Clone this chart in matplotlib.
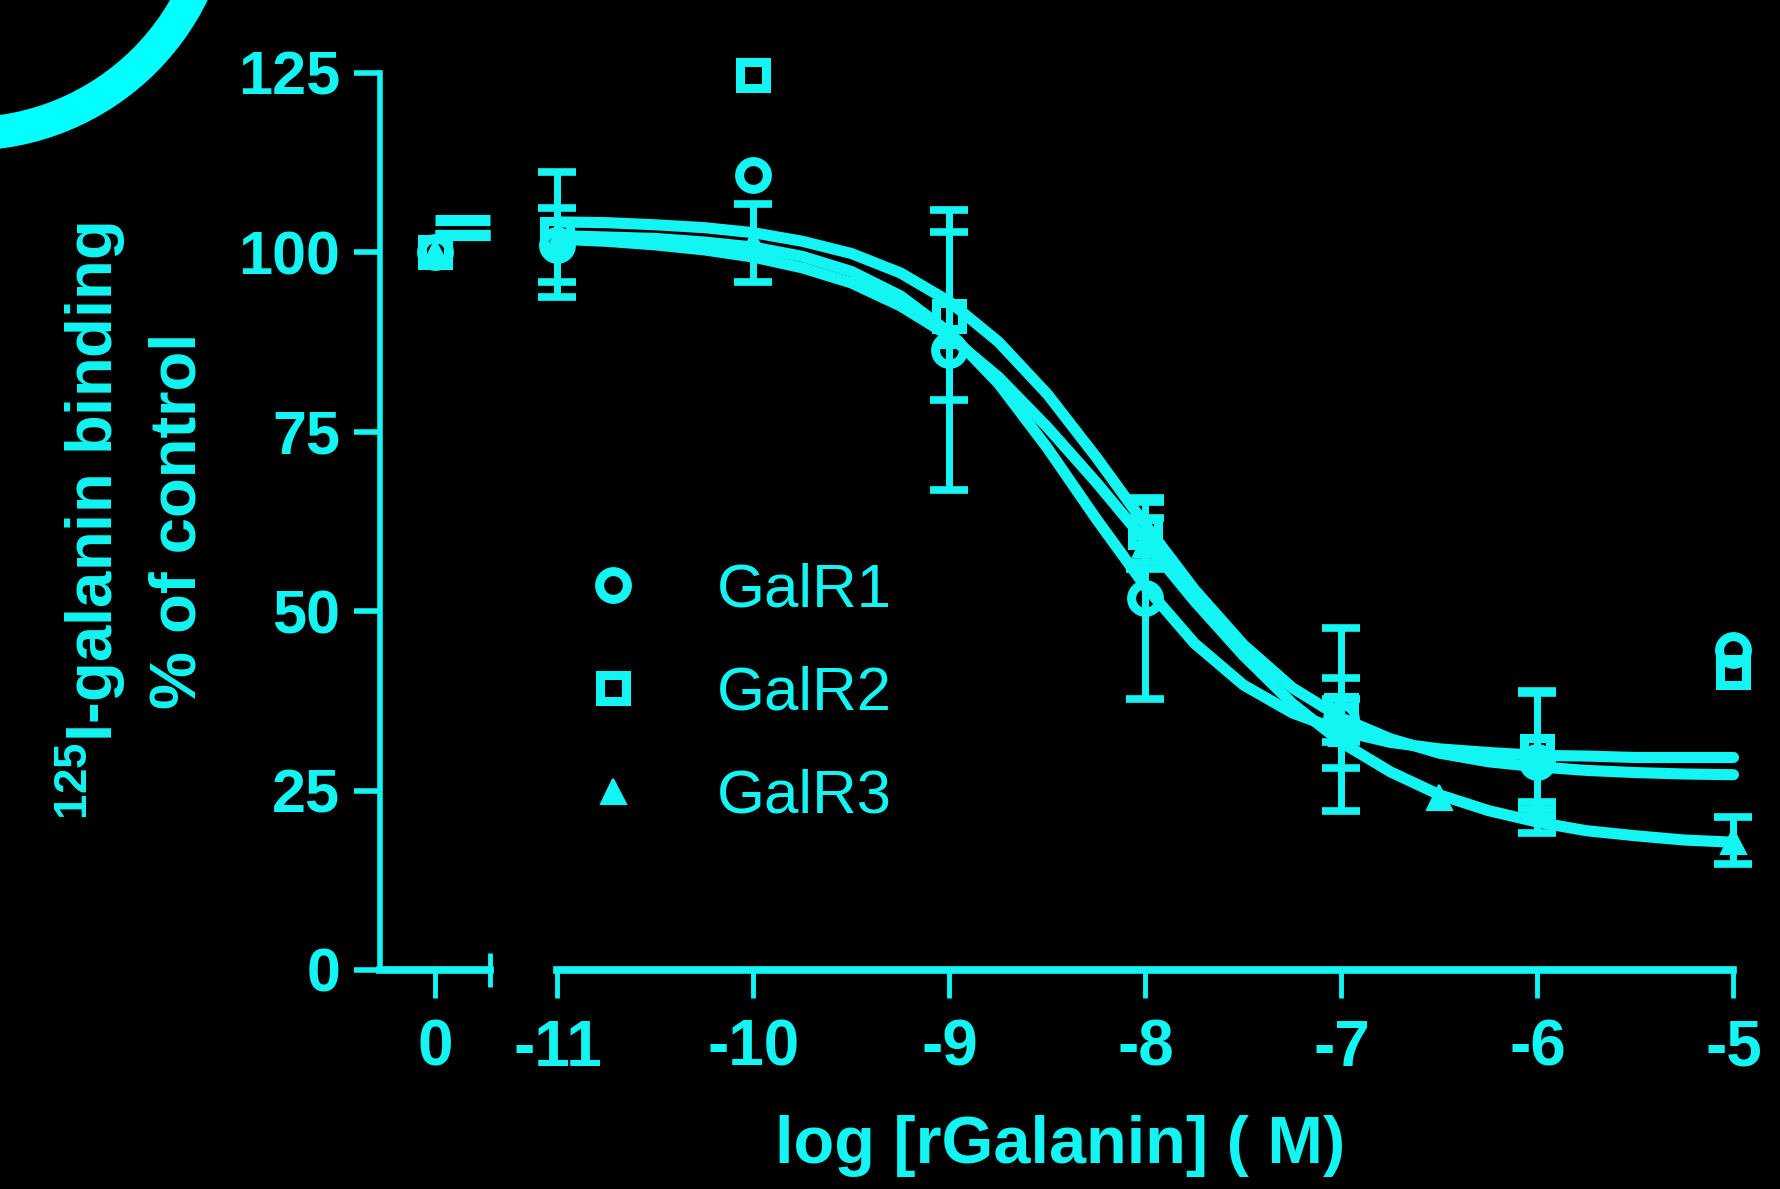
import matplotlib
matplotlib.use("Agg")
import matplotlib.pyplot as plt
from matplotlib.patches import Ellipse
from matplotlib.lines import Line2D

CYAN = "#12F5F2"
plt.rcParams["font.family"] = ["Liberation Sans", "DejaVu Sans"]
plt.rcParams["font.weight"] = "bold"
plt.rcParams["mathtext.fontset"] = "custom"
plt.rcParams["mathtext.rm"] = "Liberation Sans:bold"
plt.rcParams["mathtext.bf"] = "Liberation Sans:bold"
plt.rcParams["axes.unicode_minus"] = False

# ---- data ----
labels = ["GalR1", "GalR2", "GalR3"]

# control point, plotted at "0" on the broken axis
ctrl_y = [100.0, 100.0, 100.0]
ctrl_fit = [102.4, 104.5, 102.4]   # fitted top plateau shown over the control segment

r1_x = [-11, -10, -9, -8, -7, -6, -5]
r1_y = [101.0, 110.8, 86.3, 51.8, 34.9, 29.0, 44.6]
r1_err = [5.1, 0, 19.5, 14.0, 12.8, 9.9, 0]

r2_x = [-11, -10, -9, -8, -7, -6, -5]
r2_y = [102.5, 124.6, 91.1, 61.0, 36.2, 30.5, 41.5]
r2_err = [8.7, 0, 11.7, 4.2, 4.5, 8.1, 0]

r3_x = [-11, -10, -9, -8, -7, -6.5, -6, -5]
r3_y = [101.5, 101.3, 88.5, 59.4, 33.0, 24.1, 22.4, 18.0]
r3_err = [0, 5.4, 0, 3.5, 4.8, 0, 1.0, 3.3]

# fitted curves
fit_x = [-11, -10.75, -10.5, -10.25, -10, -9.75, -9.5, -9.25, -9, -8.75, -8.5, -8.25,
         -8, -7.75, -7.5, -7.25, -7, -6.75, -6.5, -6.25, -6, -5.75, -5.5, -5.25, -5]
fit1 = [102.3, 102.1, 101.9, 101.4, 100.7, 99.4, 97.3, 93.9, 88.8, 81.7, 72.7, 62.8,
        53.4, 45.5, 39.7, 35.8, 33.3, 31.7, 30.8, 30.3, 29.9, 29.8, 29.6, 29.6, 29.6]
fit2 = [104.2, 104.1, 103.8, 103.4, 102.7, 101.5, 99.8, 97.1, 93.1, 87.5, 80.2, 71.4,
        62.0, 53.0, 45.3, 39.3, 35.1, 32.2, 30.2, 29.0, 28.3, 27.8, 27.5, 27.3, 27.2]
fit3 = [101.8, 101.5, 101.0, 100.3, 99.3, 97.8, 95.7, 92.5, 88.3, 82.6, 75.6, 67.9,
        59.7, 51.4, 43.8, 37.1, 31.7, 27.6, 24.4, 22.2, 20.6, 19.4, 18.7, 18.1, 17.8]

x_ticks = [-11, -10, -9, -8, -7, -6, -5]
x_ticklabels = ["-11", "-10", "-9", "-8", "-7", "-6", "-5"]
y_ticks = [0, 25, 50, 75, 100, 125]

# ---- styles ----
mstyle = [
    dict(marker="o", ms=20, mew=6.5, mfc="none"),
    dict(marker="s", ms=19, mew=6.5, mfc="none"),
    dict(marker="^", ms=18, mew=1.5, mfc=CYAN),
]

W, H = 1780, 1189
fig = plt.figure(figsize=(W / 100, H / 100), dpi=100, facecolor="black")


def px(x0, y0, x1, y1):
    return [x0 / W, 1 - y1 / H, (x1 - x0) / W, (y1 - y0) / H]


ax0 = fig.add_axes(px(380, 72.6, 490.4, 970))
ax1 = fig.add_axes(px(557.4, 72.6, 1733.5, 970), sharey=ax0)
for ax in (ax0, ax1):
    ax.set_facecolor("black")
    ax.spines["top"].set_visible(False)
    ax.spines["right"].set_visible(False)
    ax.spines["bottom"].set_color(CYAN)
    ax.spines["bottom"].set_linewidth(5.5)
ax1.spines["left"].set_visible(False)
ax0.spines["left"].set_color(CYAN)
ax0.spines["left"].set_linewidth(4)

ax0.set_xlim(-0.2796, 0.2837)
ax1.set_xlim(-11, -5)
ax0.set_ylim(0, 125)

ax0.set_yticks(y_ticks)
ax0.tick_params(axis="y", length=18.7, width=4, pad=10, labelsize=44,
                color=CYAN, labelcolor=CYAN)
ax1.tick_params(axis="y", left=False, labelleft=False)

ax0.set_xticks([0])
ax0.set_xticklabels(["0"])
ax0.set_xticks([ax0.get_xlim()[1]], minor=True)
ax1.set_xticks(x_ticks)
ax1.set_xticklabels(x_ticklabels)
ax1.set_xticks([-11], minor=True)
for ax in (ax0, ax1):
    ax.tick_params(axis="x", which="major", direction="out", length=20, width=3.5,
                   pad=15, labelsize=46, color=CYAN, labelcolor=CYAN)
ax0.tick_params(axis="x", which="minor", direction="inout", length=24, width=3.5, color=CYAN)
ax1.tick_params(axis="x", which="minor", direction="in", length=12, width=3.5, color=CYAN)

# control segment
xend = ax0.get_xlim()[1]
for v in ctrl_fit:
    ax0.plot([0, xend], [v, v], color=CYAN, lw=8, solid_capstyle="butt", clip_on=False)
for yv, st in zip(ctrl_y, mstyle):
    ax0.plot([0], [yv], ls="none", color=CYAN, clip_on=False, zorder=4, **st)

# dose-response segment
for fy in (fit1, fit2, fit3):
    ax1.plot(fit_x, fy, color=CYAN, lw=8, solid_capstyle="round",
             solid_joinstyle="round", clip_on=False)

for xs, ys, es, st in ((r1_x, r1_y, r1_err, mstyle[0]),
                       (r2_x, r2_y, r2_err, mstyle[1]),
                       (r3_x, r3_y, r3_err, mstyle[2])):
    ex = [x for x, e in zip(xs, es) if e > 0]
    ey = [y for y, e in zip(ys, es) if e > 0]
    ee = [e for e in es if e > 0]
    eb = ax1.errorbar(ex, ey, yerr=ee, fmt="none", ecolor=CYAN, elinewidth=5,
                      capsize=13.5, capthick=5.5, clip_on=False, zorder=3)
    for art in eb.lines[1] + eb.lines[2]:
        art.set_clip_on(False)
    ax1.plot(xs, ys, ls="none", color=CYAN, clip_on=False, zorder=4, **st)

handles = [Line2D([], [], ls="none", color=CYAN, **st) for st in mstyle]
ax1.legend(handles, labels, loc="center left", bbox_to_anchor=(582.5 / W, 1 - 694 / H),
           bbox_transform=fig.transFigure, frameon=False, borderpad=0, borderaxespad=0,
           handlelength=1.0, handletextpad=1.17, labelspacing=0.74,
           prop={"size": 44.5, "weight": "normal"}, labelcolor=CYAN)

fig.text(1060 / W, 1 - 1163 / H, "log [rGalanin] ( M)", ha="center", va="baseline",
         fontsize=48, fontweight="bold", color=CYAN)
fig.text(131 / W, 1 - 521 / H, "$^{125}$I-galanin binding\n% of control", rotation=90,
         ha="center", va="center", multialignment="center", linespacing=1.45,
         fontsize=47, fontweight="bold", color=CYAN)

# decorative arc in the top-left corner
fig.add_artist(Ellipse((-33 / W, 1 + 117 / H), 2 * 251 / W, 2 * 251 / H,
                       transform=fig.transFigure, fill=False, lw=24, ec="#00FFFF"))

fig.savefig("out.png", dpi=100, facecolor="black")
